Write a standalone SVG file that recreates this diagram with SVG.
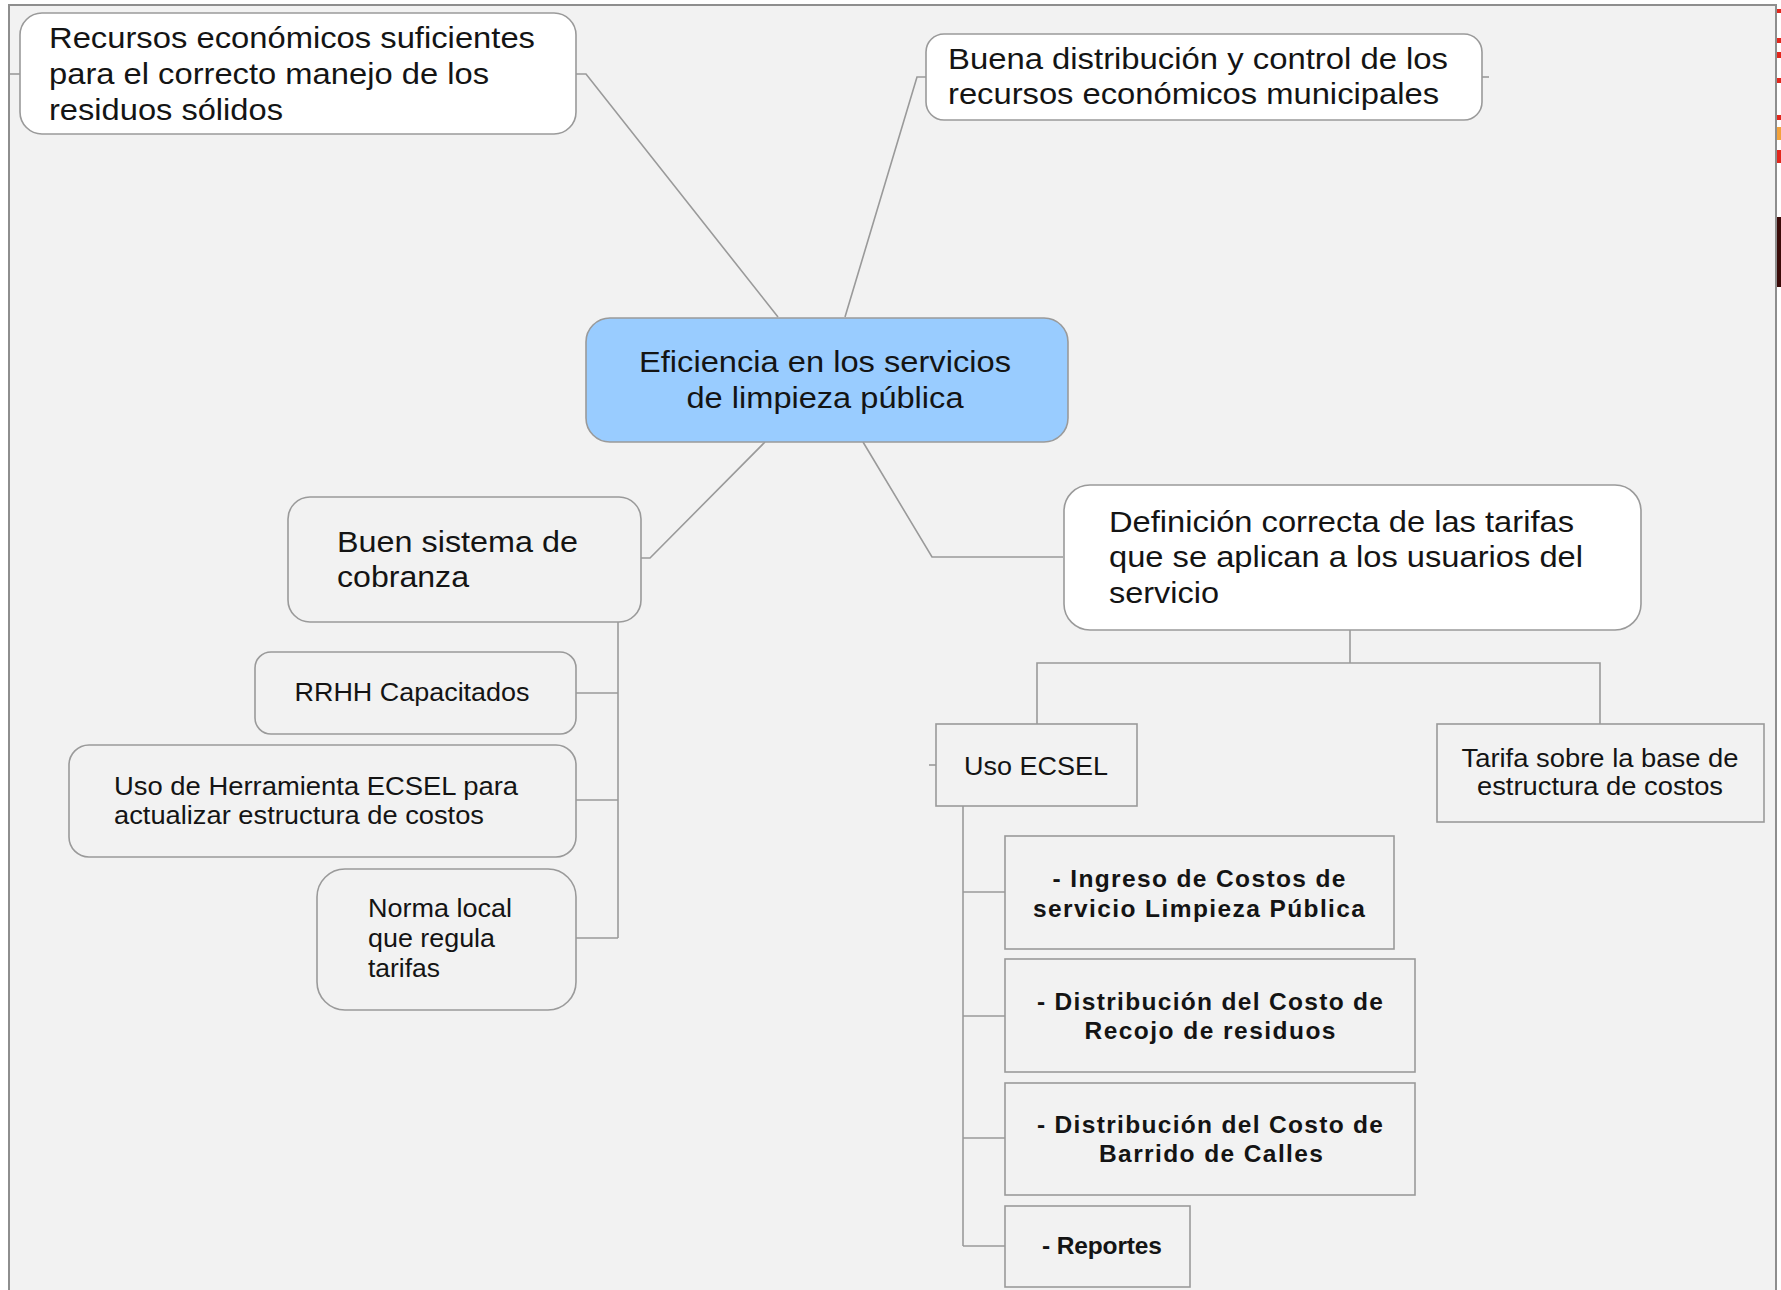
<svg xmlns="http://www.w3.org/2000/svg" width="1781" height="1290" viewBox="0 0 1781 1290">
<style>
  .t { font-family: "Liberation Sans", Arial, sans-serif; fill: #141414; }
  .big { font-size: 30px; }
  .mid { font-size: 25px; }
  .bold { font-size: 24.5px; font-weight: bold; }
  .node { stroke: #9a9a9a; stroke-width: 1.6; }
  .white { fill: #ffffff; }
  .plain { fill: #f2f2f2; }
  .conn { fill: none; stroke: #9a9a9a; stroke-width: 1.6; }
</style>
<rect x="0" y="0" width="1781" height="1290" fill="#ffffff"/>
<rect x="9" y="5" width="1767" height="1300" fill="#f2f2f2" stroke="#8e8e8e" stroke-width="2"/>
<g id="decor">
  <rect x="1777" y="9" width="4" height="4" fill="#e3261c"/>
  <rect x="1777" y="38" width="4" height="5" fill="#e3261c"/>
  <rect x="1777" y="52" width="4" height="6" fill="#e3261c"/>
  <rect x="1777" y="78" width="4" height="5" fill="#e3261c"/>
  <rect x="1777" y="115" width="4" height="5" fill="#e3261c"/>
  <rect x="1777" y="127" width="4" height="13" fill="#f3a23a"/>
  <rect x="1777" y="150" width="4" height="13" fill="#e3261c"/>
  <rect x="1777" y="217" width="4" height="70" fill="#3a0a08"/>
</g>
<g id="connectors">
  <path class="conn" d="M10,74 H20"/>
  <path class="conn" d="M576,74 H586 L778,317"/>
  <path class="conn" d="M926,77 H917 L845,317"/>
  <path class="conn" d="M1482,77 H1489"/>
  <path class="conn" d="M765,442 L650,558 H641"/>
  <path class="conn" d="M863,442 L932,557 H1063"/>
  <path class="conn" d="M618,622 V938"/>
  <path class="conn" d="M576,693 H618"/>
  <path class="conn" d="M576,800 H618"/>
  <path class="conn" d="M576,938 H618"/>
  <path class="conn" d="M1350,630 V663"/>
  <path class="conn" d="M1037,724 V663 H1600 V724"/>
  <path class="conn" d="M929,765 H936"/>
  <path class="conn" d="M963,806 V1246"/>
  <path class="conn" d="M963,892 H1005"/>
  <path class="conn" d="M963,1016 H1005"/>
  <path class="conn" d="M963,1138 H1005"/>
  <path class="conn" d="M963,1246 H1005"/>
</g>
<g id="n-recursos">
  <rect class="node white" x="20" y="13" width="556" height="121" rx="22"/>
  <text class="t big" x="49" y="48" textLength="486" lengthAdjust="spacingAndGlyphs">Recursos económicos suficientes</text>
  <text class="t big" x="49" y="84" textLength="440" lengthAdjust="spacingAndGlyphs">para el correcto manejo de los</text>
  <text class="t big" x="49" y="120" textLength="234" lengthAdjust="spacingAndGlyphs">residuos sólidos</text>
</g>
<g id="n-buena">
  <rect class="node white" x="926" y="34" width="556" height="86" rx="18"/>
  <text class="t big" x="948" y="69" textLength="500" lengthAdjust="spacingAndGlyphs">Buena distribución y control de los</text>
  <text class="t big" x="948" y="104" textLength="491" lengthAdjust="spacingAndGlyphs">recursos económicos municipales</text>
</g>
<g id="n-central">
  <rect class="node" fill="#99ccff" x="586" y="318" width="482" height="124" rx="24"/>
  <text class="t big" x="825" y="372" text-anchor="middle" textLength="372" lengthAdjust="spacingAndGlyphs">Eficiencia en los servicios</text>
  <text class="t big" x="825" y="408" text-anchor="middle" textLength="277" lengthAdjust="spacingAndGlyphs">de limpieza pública</text>
</g>
<g id="n-cobranza">
  <rect class="node plain" x="288" y="497" width="353" height="125" rx="22"/>
  <text class="t big" x="337" y="552" textLength="241" lengthAdjust="spacingAndGlyphs">Buen sistema de</text>
  <text class="t big" x="337" y="587" textLength="132" lengthAdjust="spacingAndGlyphs">cobranza</text>
</g>
<g id="n-rrhh">
  <rect class="node plain" x="255" y="652" width="321" height="82" rx="16"/>
  <text class="t mid" x="412" y="701" text-anchor="middle" textLength="235" lengthAdjust="spacingAndGlyphs">RRHH Capacitados</text>
</g>
<g id="n-herramienta">
  <rect class="node plain" x="69" y="745" width="507" height="112" rx="20"/>
  <text class="t mid" x="114" y="795" textLength="404" lengthAdjust="spacingAndGlyphs">Uso de Herramienta ECSEL para</text>
  <text class="t mid" x="114" y="824" textLength="370" lengthAdjust="spacingAndGlyphs">actualizar estructura de costos</text>
</g>
<g id="n-norma">
  <rect class="node plain" x="317" y="869" width="259" height="141" rx="28"/>
  <text class="t mid" x="368" y="917" textLength="144" lengthAdjust="spacingAndGlyphs">Norma local</text>
  <text class="t mid" x="368" y="947" textLength="127" lengthAdjust="spacingAndGlyphs">que regula</text>
  <text class="t mid" x="368" y="977" textLength="72" lengthAdjust="spacingAndGlyphs">tarifas</text>
</g>
<g id="n-definicion">
  <rect class="node white" x="1064" y="485" width="577" height="145" rx="26"/>
  <text class="t big" x="1109" y="532" textLength="465" lengthAdjust="spacingAndGlyphs">Definición correcta de las tarifas</text>
  <text class="t big" x="1109" y="567" textLength="474" lengthAdjust="spacingAndGlyphs">que se aplican a los usuarios del</text>
  <text class="t big" x="1109" y="603" textLength="110" lengthAdjust="spacingAndGlyphs">servicio</text>
</g>
<g id="n-uso-ecsel">
  <rect class="node plain" x="936" y="724" width="201" height="82"/>
  <text class="t mid" x="1036" y="775" text-anchor="middle" textLength="144" lengthAdjust="spacingAndGlyphs">Uso ECSEL</text>
</g>
<g id="n-tarifa">
  <rect class="node plain" x="1437" y="724" width="327" height="98"/>
  <text class="t mid" x="1600" y="767" text-anchor="middle" textLength="277" lengthAdjust="spacingAndGlyphs">Tarifa sobre la base de</text>
  <text class="t mid" x="1600" y="795" text-anchor="middle" textLength="246" lengthAdjust="spacingAndGlyphs">estructura de costos</text>
</g>
<g id="n-ingreso">
  <rect class="node plain" x="1005" y="836" width="389" height="113"/>
  <text class="t bold" x="1199" y="887" text-anchor="middle" textLength="293" lengthAdjust="spacing">- Ingreso de Costos de</text>
  <text class="t bold" x="1199" y="917" text-anchor="middle" textLength="332" lengthAdjust="spacing">servicio Limpieza Pública</text>
</g>
<g id="n-recojo">
  <rect class="node plain" x="1005" y="959" width="410" height="113"/>
  <text class="t bold" x="1210" y="1010" text-anchor="middle" textLength="346" lengthAdjust="spacing">- Distribución del Costo de</text>
  <text class="t bold" x="1210" y="1039" text-anchor="middle" textLength="251" lengthAdjust="spacing">Recojo de residuos</text>
</g>
<g id="n-barrido">
  <rect class="node plain" x="1005" y="1083" width="410" height="112"/>
  <text class="t bold" x="1210" y="1133" text-anchor="middle" textLength="346" lengthAdjust="spacing">- Distribución del Costo de</text>
  <text class="t bold" x="1211" y="1162" text-anchor="middle" textLength="224" lengthAdjust="spacing">Barrido de Calles</text>
</g>
<g id="n-reportes">
  <rect class="node plain" x="1005" y="1206" width="185" height="81"/>
  <text class="t bold" x="1102" y="1254" text-anchor="middle" textLength="120" lengthAdjust="spacing">- Reportes</text>
</g>
</svg>
